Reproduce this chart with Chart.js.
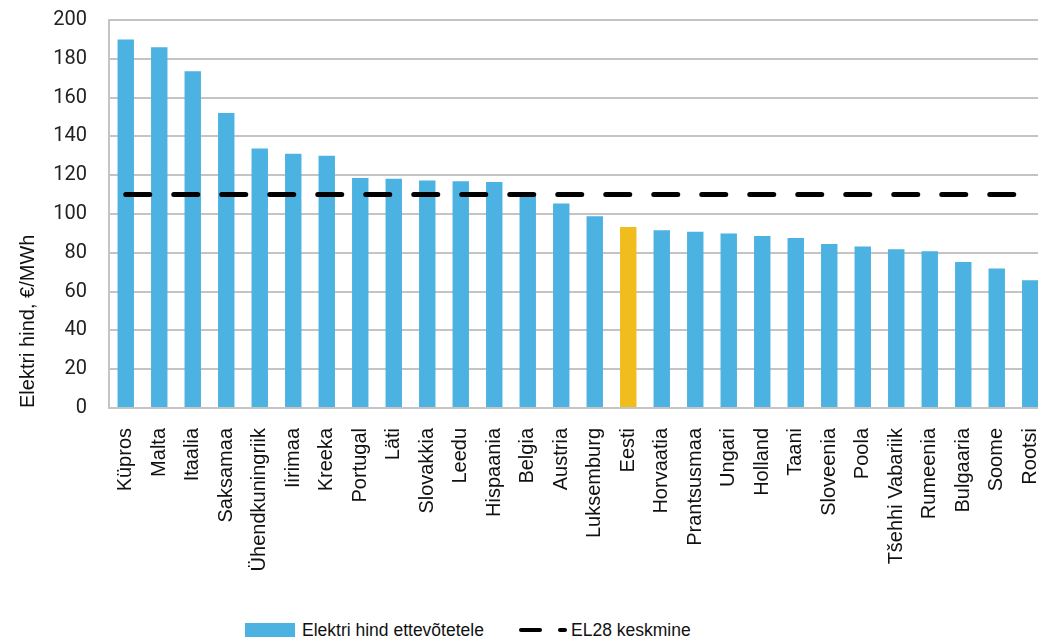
<!DOCTYPE html>
<html>
<head>
<meta charset="utf-8">
<script src="https://cdn.jsdelivr.net/npm/chart.js@4.4.1/dist/chart.umd.min.js"></script>
<style>
  html, body { margin: 0; padding: 0; background: #fff; overflow: hidden; }
  #wrap { position: relative; width: 1038px; height: 643px; overflow: hidden; }
  #chart-box { position: absolute; left: 0; top: 0; width: 1048px; height: 610px; }
  .legend { position: absolute; top: 619px; height: 22px; font: 17.5px "Liberation Sans", Arial, sans-serif; color: #111; line-height: 22px; white-space: nowrap; }
  .swatch { position: absolute; left: 245px; top: 623px; width: 50px; height: 14px; background: #4bb2e1; }
  .dash { position: absolute; top: 628px; height: 4px; background: #000; border-radius: 2px; }
</style>
</head>
<body>
<div id="wrap">
  <div id="chart-box"><canvas id="price-chart" width="1048" height="610"></canvas></div>
  <div class="swatch"></div>
  <div class="legend" style="left:302px">Elektri hind ettevõtetele</div>
  <div class="dash" style="left:519px; width:23px"></div>
  <div class="dash" style="left:558px; width:9px"></div>
  <div class="legend" style="left:571px">EL28 keskmine</div>
</div>
<script>
// riigid, hind ettevõtetele (€/MWh) ja EL28 keskmine
var countries = ["Küpros", "Malta", "Itaalia", "Saksamaa", "Ühendkuningriik", "Iirimaa", "Kreeka",
    "Portugal", "Läti", "Slovakkia", "Leedu", "Hispaania", "Belgia", "Austria", "Luksemburg", "Eesti",
    "Horvaatia", "Prantsusmaa", "Ungari", "Holland", "Taani", "Sloveenia", "Poola", "Tšehhi Vabariik",
    "Rumeenia", "Bulgaaria", "Soome", "Rootsi"];
var prices = [190, 186, 173.6, 152, 133.7, 131, 130, 118.6, 118.2, 117.3, 116.9, 116.5, 109.5, 105.4,
    98.8, 93.3, 91.6, 90.9, 89.9, 88.7, 87.6, 84.5, 83.3, 81.8, 80.8, 75.3, 71.9, 65.9];
var euAverage = 110;
var highlight = "Eesti";
var yTicks = [0, 20, 40, 60, 80, 100, 120, 140, 160, 180, 200];

var blue = "#4bb2e1";
var yellow = "#f0bd1c";
var gridGrey = "#c4c4c4";

var barColors = countries.map(function(c) { return c === highlight ? yellow : blue; });
var avgLine = countries.map(function() { return euAverage; });

var ctx = document.getElementById("price-chart").getContext("2d");
new Chart(ctx, {
    data: {
        labels: countries,
        datasets: [{
            type: "line",
            label: "EL28 keskmine",
            data: avgLine,
            borderColor: "#000",
            borderWidth: 5,
            borderDash: [24, 24],
            borderCapStyle: "round",
            pointRadius: 0,
            fill: false,
            order: 0
        }, {
            type: "bar",
            label: "Elektri hind ettevõtetele",
            data: prices,
            backgroundColor: barColors,
            categoryPercentage: 1,
            barPercentage: 0.49,
            order: 1
        }]
    },
    options: {
        responsive: false,
        animation: false,
        layout: { padding: { top: 20, right: 1, left: 0, bottom: 0 } },
        plugins: {
            legend: { display: false },
            tooltip: { enabled: false }
        },
        scales: {
            x: {
                grid: { display: false },
                border: { display: true, color: gridGrey, width: 2 },
                afterFit: function(scale) {
                    scale.height = 202;
                    scale.paddingLeft = 0;
                    scale.paddingRight = 0;
                },
                ticks: {
                    minRotation: 90,
                    maxRotation: 90,
                    autoSkip: false,
                    padding: 12,
                    color: "#111",
                    font: { family: "'Liberation Sans', Arial, sans-serif", size: 20 }
                }
            },
            y: {
                min: 0,
                max: 200,
                afterFit: function(scale) {
                    scale.width = 109;
                    scale.paddingTop = 0;
                    scale.paddingBottom = 0;
                },
                afterBuildTicks: function(scale) {
                    scale.ticks = yTicks.map(function(v) { return { value: v }; });
                },
                grid: { color: gridGrey, lineWidth: 2, drawTicks: false },
                border: { display: true, color: gridGrey, width: 2 },
                ticks: {
                    padding: 22,
                    color: "#222",
                    font: { family: "Roboto, 'Liberation Sans', sans-serif", size: 20 }
                },
                title: {
                    display: true,
                    text: "Elektri hind, €/MWh",
                    align: "start",
                    color: "#111",
                    padding: { top: 16, bottom: 0 },
                    font: { family: "'Liberation Sans', Arial, sans-serif", size: 20 }
                }
            }
        }
    }
});
</script>
</body>
</html>
